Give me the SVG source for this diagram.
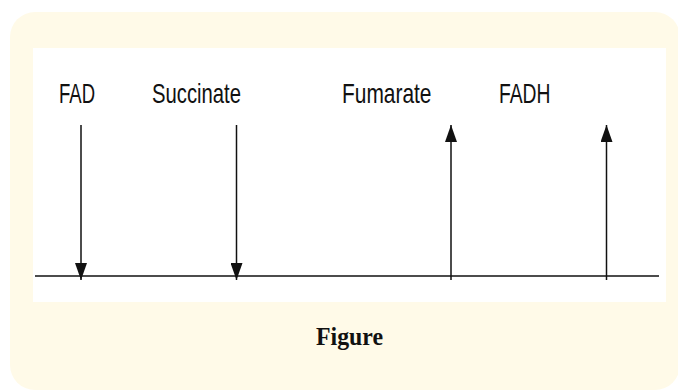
<svg xmlns="http://www.w3.org/2000/svg" width="678" height="391" viewBox="0 0 678 391">
<style>
.lbl{font-family:"Liberation Sans",Arial,sans-serif;font-size:28px;fill:#111}
.cap{font-family:"Liberation Serif","Times New Roman",serif;font-size:25px;font-weight:bold;fill:#111}
.ln{stroke:#111;stroke-width:1.5;fill:none}
</style>
<defs>
<marker id="ah" viewBox="0 0 17 12" refX="17" refY="6" markerWidth="17" markerHeight="12" markerUnits="userSpaceOnUse" orient="auto">
<path d="M0,0 L17,6 L0,12 Z" fill="#111"/>
</marker>
</defs>
<rect x="10" y="12" width="670" height="378" rx="25" fill="#fffae8"/>
<rect x="33" y="48" width="633" height="254" fill="#ffffff"/>
<g id="connectors">
<line class="ln" x1="35" y1="276" x2="659" y2="276"/>
<path class="ln" d="M81,125 V280" marker-end="url(#ah)"/>
<path class="ln" d="M236.5,125 V280" marker-end="url(#ah)"/>
<path class="ln" d="M451,280 V125" marker-end="url(#ah)"/>
<path class="ln" d="M606.5,280 V125" marker-end="url(#ah)"/>
</g>
<g id="fad"><text class="lbl" x="59" y="103" textLength="36" lengthAdjust="spacingAndGlyphs">FAD</text></g>
<g id="succinate"><text class="lbl" x="152" y="103" textLength="89" lengthAdjust="spacingAndGlyphs">Succinate</text></g>
<g id="fumarate"><text class="lbl" x="342" y="103" textLength="89.5" lengthAdjust="spacingAndGlyphs">Fumarate</text></g>
<g id="fadh"><text class="lbl" x="499" y="103" textLength="51.5" lengthAdjust="spacingAndGlyphs">FADH</text></g>
<g id="caption"><text class="cap" x="316" y="345" textLength="67" lengthAdjust="spacingAndGlyphs">Figure</text></g>
</svg>
